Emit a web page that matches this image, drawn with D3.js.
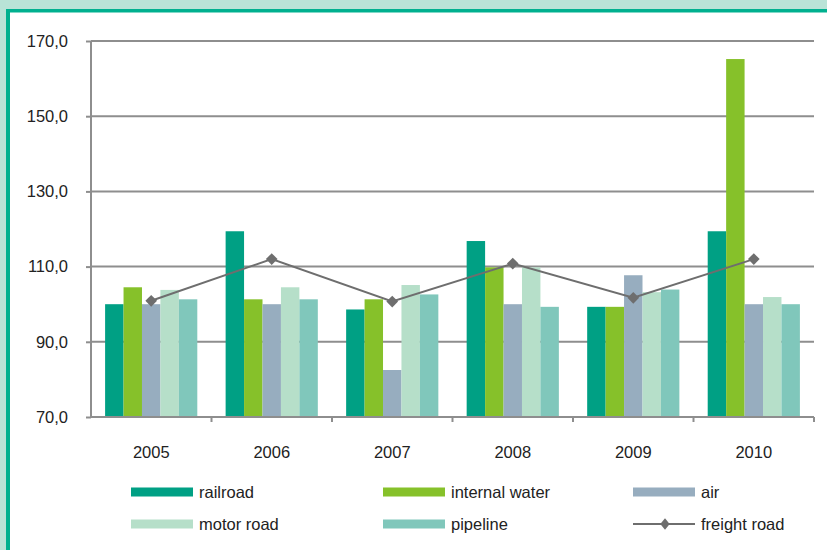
<!DOCTYPE html>
<html><head><meta charset="utf-8">
<script src="https://cdn.jsdelivr.net/npm/d3@7"></script>
<style>html,body{margin:0;padding:0;background:#fff}svg{display:block}</style>
</head><body><svg id="c" width="827" height="550"></svg>
<script>
const years = ["2005","2006","2007","2008","2009","2010"];
const seriesNames = ["railroad","internal water","air","motor road","pipeline"];
const railroad      = [100.0, 119.4,  98.6, 116.8,  99.3, 119.4];
const internalWater = [104.5, 101.3, 101.3, 109.8,  99.3, 165.2];
const air           = [100.0, 100.0,  82.5, 100.0, 107.7, 100.0];
const motorRoad     = [103.8, 104.5, 105.1, 109.8, 103.2, 101.9];
const pipeline      = [101.3, 101.3, 102.6,  99.3, 103.9, 100.0];
const freightRoad   = [100.9, 112.0, 100.7, 110.8, 101.7, 112.0];
const yTicks = [70, 90, 110, 130, 150, 170];

const colors = ["#00a084","#86c12a","#97adbf","#b6dfc9","#80c7bb"];
const lineColor = "#6e6e6e";
const gridColor = "#8e8e8e";
const barSeries = [railroad, internalWater, air, motorRoad, pipeline];

const svg = d3.select("#c");
const W = 827, H = 550;
svg.append("rect").attr("width", W).attr("height", H).attr("fill", "#b9e3d7");
svg.append("rect").attr("x", 6).attr("y", 9).attr("width", W).attr("height", H).attr("fill", "#00b08f");
svg.append("rect").attr("x", 10).attr("y", 12.5).attr("width", W).attr("height", H).attr("fill", "#ffffff");

const pL = 91, pR = 814, pT = 41, pB = 417;
const x = d3.scaleBand().domain(years).range([pL, pR]).paddingInner(0.235).paddingOuter(0.117);
const xOuter = d3.scaleBand().domain(years).range([pL, pR]);
const x1 = d3.scaleBand().domain(d3.range(barSeries.length)).range([0, x.bandwidth()]);
const y = d3.scaleLinear().domain([70, 170]).range([pB, pT]);
const font = "'Liberation Sans', Arial, sans-serif";
const fs = 16.5;

// gridlines
svg.append("g").selectAll("line").data(yTicks.slice(1)).join("line")
  .attr("x1", pL).attr("x2", pR)
  .attr("y1", d => y(d)).attr("y2", d => y(d))
  .attr("stroke", gridColor).attr("stroke-width", 2);

// bars
const groups = svg.append("g").selectAll("g").data(years).join("g")
  .attr("transform", d => `translate(${x(d)},0)`);
groups.selectAll("rect").data((yr, i) => barSeries.map((s, k) => ({k, v: s[i]}))).join("rect")
  .attr("x", d => x1(d.k)).attr("width", x1.bandwidth())
  .attr("y", d => y(d.v)).attr("height", d => y(70) - y(d.v) + 1)
  .attr("fill", d => colors[d.k]);

// y axis
const yAxis = d3.axisLeft(y).tickValues(yTicks).tickSize(5).tickPadding(18)
  .tickFormat(d => d3.format(".1f")(d).replace(".", ","));
const ya = svg.append("g").attr("transform", `translate(${pL},0)`).call(yAxis);
ya.select(".domain").attr("stroke", gridColor).attr("stroke-width", 2).attr("d", `M0,${pT}V${pB}`);
ya.selectAll(".tick line").attr("stroke", gridColor).attr("stroke-width", 2);
ya.selectAll("text").attr("font-family", font).attr("font-size", fs).attr("fill", "#222");

// x axis
const xAxis = d3.axisBottom(xOuter).tickSize(0).tickPadding(0);
const xa = svg.append("g").attr("transform", `translate(0,${pB})`).call(xAxis);
xa.select(".domain").attr("stroke", gridColor).attr("stroke-width", 2).attr("d", `M${pL},0H${pR}`);
xa.selectAll(".tick text").attr("font-family", font).attr("font-size", fs).attr("fill", "#222").attr("dy", "0").attr("y", 41);
// category boundary ticks
const bounds = years.map(d => xOuter(d) + xOuter.bandwidth());
xa.append("g").selectAll("line").data(bounds).join("line")
  .attr("x1", d => d).attr("x2", d => d).attr("y1", 0).attr("y2", 5)
  .attr("stroke", gridColor).attr("stroke-width", 2);

// freight road line
const cx = d => x(d) + x.bandwidth() / 2;
const line = d3.line().x((d, i) => cx(years[i])).y(d => y(d));
svg.append("path").datum(freightRoad).attr("d", line).attr("fill", "none")
  .attr("stroke", lineColor).attr("stroke-width", 2);
const diamond = d3.symbol().type(d3.symbolSquare).size(68);
svg.append("g").selectAll("path").data(freightRoad).join("path")
  .attr("d", diamond)
  .attr("transform", (d, i) => `translate(${cx(years[i])},${y(d)}) rotate(45)`)
  .attr("fill", lineColor);

// legend
const legendItems = [
  {name: "railroad", type: "bar", color: colors[0]},
  {name: "internal water", type: "bar", color: colors[1]},
  {name: "air", type: "bar", color: colors[2]},
  {name: "motor road", type: "bar", color: colors[3]},
  {name: "pipeline", type: "bar", color: colors[4]},
  {name: "freight road", type: "line", color: lineColor}
];
const colX = [131, 383, 633], rowY = [492, 524];
const lg = svg.append("g").selectAll("g").data(legendItems).join("g")
  .attr("transform", (d, i) => `translate(${colX[i % 3]},${rowY[Math.floor(i / 3)]})`);
lg.each(function(d) {
  const g = d3.select(this);
  if (d.type === "bar") {
    g.append("rect").attr("x", 0).attr("y", -4.5).attr("width", 62).attr("height", 9).attr("fill", d.color);
  } else {
    g.append("line").attr("x1", 0).attr("x2", 62).attr("y1", 0).attr("y2", 0).attr("stroke", d.color).attr("stroke-width", 2);
    g.append("path").attr("d", d3.symbol().type(d3.symbolSquare).size(60)).attr("transform", "translate(32,0) scale(0.85,1.05) rotate(45)").attr("fill", d.color);
  }
  g.append("text").attr("x", 68).attr("y", 0).attr("dy", "0.35em")
    .attr("font-family", font).attr("font-size", fs).attr("fill", "#222").text(d.name);
});
</script></body></html>
